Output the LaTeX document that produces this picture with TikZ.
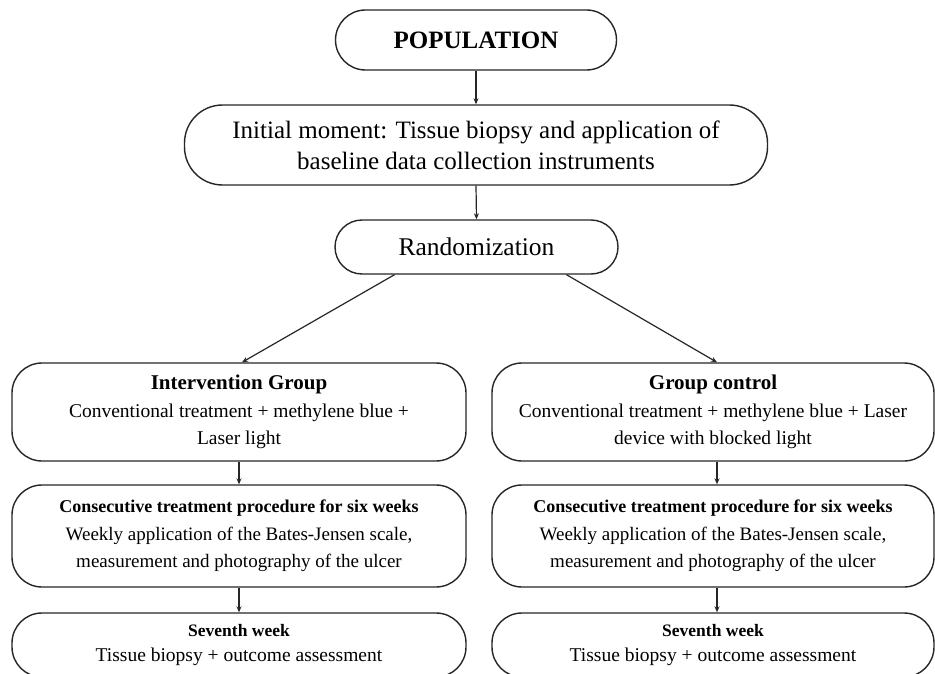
\documentclass[tikz,border=0pt]{standalone}
\usepackage{fontspec}
\setmainfont{Liberation Serif}
\usetikzlibrary{arrows.meta}
\tikzset{
  box/.style={draw=black!85, line width=1.4pt, rounded corners=30pt, align=center, inner sep=0pt, text=black},
  conn/.style={draw=black!85, line width=1.2pt, -{Stealth[length=6pt,width=5pt]}},
  colbox/.style={box, font=\fontsize{19.5}{27.5}\selectfont},
}
\newcommand{\hdA}{\bfseries\fontsize{21}{27.5}\selectfont}
\newcommand{\hdB}{\bfseries\fontsize{18}{27.5}\selectfont}
\newcommand{\hdC}{\bfseries\fontsize{17.5}{25}\selectfont}
\begin{document}
\begin{tikzpicture}[x=1pt,y=-1pt]
\clip (0,0) rectangle (935,674);
\fill[white] (0,0) rectangle (935,674);

\node[box, minimum width=281pt, minimum height=60pt, font=\bfseries\fontsize{25}{30}\selectfont] (pop) at (476,40) {POPULATION};
\node[box, minimum width=583pt, minimum height=80pt, rounded corners=38pt, font=\fontsize{25}{31}\selectfont] (init) at (476,145) {Initial moment: Tissue biopsy and application of\\baseline data collection instruments};
\node[box, minimum width=283pt, minimum height=54pt, rounded corners=27pt, font=\fontsize{25.5}{30}\selectfont] (rand) at (476.5,247) {Randomization};

\node[colbox, minimum width=454pt, minimum height=98pt] (int) at (239,412) {{\hdA Intervention Group}\\Conventional treatment + methylene blue +\\Laser light};
\node[colbox, minimum width=442pt, minimum height=98pt] (ctl) at (713,412) {{\hdA Group control}\\Conventional treatment + methylene blue + Laser\\device with blocked light};

\node[colbox, minimum width=454pt, minimum height=102pt, font=\fontsize{19}{27.5}\selectfont] (consA) at (239,536) {{\hdB Consecutive treatment procedure for six weeks}\\Weekly application of the Bates-Jensen scale,\\measurement and photography of the ulcer};
\node[colbox, minimum width=442pt, minimum height=102pt, font=\fontsize{19}{27.5}\selectfont] (consB) at (713,536) {{\hdB Consecutive treatment procedure for six weeks}\\Weekly application of the Bates-Jensen scale,\\measurement and photography of the ulcer};

\node[colbox, minimum width=454pt, minimum height=64pt, font=\fontsize{19.5}{25}\selectfont] (sevA) at (239,645) {{\hdC Seventh week}\\Tissue biopsy + outcome assessment};
\node[colbox, minimum width=442pt, minimum height=64pt, font=\fontsize{19.5}{25}\selectfont] (sevB) at (713,645) {{\hdC Seventh week}\\Tissue biopsy + outcome assessment};

\draw[conn] (pop.south) -- (init.north);
\draw[conn] (init.south) -- (rand.north);
\draw[conn] ([xshift=-82pt]rand.south) -- ([xshift=3pt]int.north);
\draw[conn] ([xshift=90pt]rand.south) -- ([xshift=4pt]ctl.north);
\draw[conn] (int.south) -- (consA.north);
\draw[conn] ([xshift=4pt]ctl.south) -- ([xshift=4pt]consB.north);
\draw[conn] (consA.south) -- (sevA.north);
\draw[conn] ([xshift=4pt]consB.south) -- ([xshift=4pt]sevB.north);
\end{tikzpicture}
\end{document}
